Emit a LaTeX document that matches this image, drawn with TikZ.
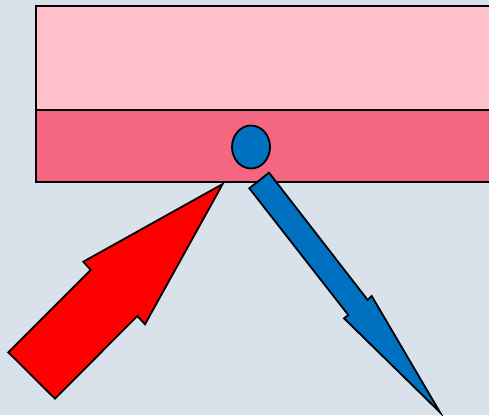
\documentclass[tikz,border=0pt]{standalone}
\usetikzlibrary{shapes.geometric}
\definecolor{bgc}{HTML}{D9E2EA}
\definecolor{lightpink}{HTML}{FFC0CB}
\definecolor{darkpink}{HTML}{F56780}
\definecolor{bluec}{HTML}{0070C0}
\definecolor{redc}{HTML}{FF0000}
\tikzset{
  outl/.style={draw=black, line width=1.8pt, line join=miter},
  band/.style={outl},
}
\begin{document}
\begin{tikzpicture}[x=1pt,y=-1pt]
\useasboundingbox (0,0) rectangle (489,415);
\clip (0,0) rectangle (489,415);
\fill[bgc] (0,0) rectangle (489,415);
% upper and lower bands
\draw[band, fill=lightpink] (36,6) rectangle (495,110);
\draw[band, fill=darkpink] (36,110) rectangle (495,182);
% blue ellipse
\node[ellipse, outl, fill=bluec, minimum width=38pt, minimum height=43pt, inner sep=0pt] (dot) at (251,147) {};
% red arrow
\draw[outl, fill=redc] (222.7,184) -- (145,324.3) -- (137.3,316) -- (55,398.7) -- (8.3,352.3) -- (90.7,270) -- (83.3,261.7) -- cycle;
% blue arrow
\draw[outl, fill=bluec] (269,172.7) -- (367.7,300) -- (371.7,296) -- (440,412.3) -- (344,318.3) -- (348.3,315) -- (249.3,188.3) -- cycle;
\end{tikzpicture}
\end{document}
